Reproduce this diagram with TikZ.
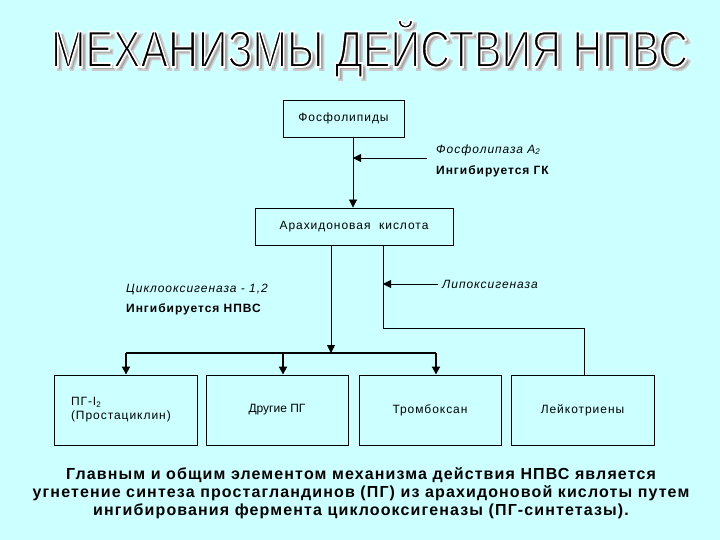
\documentclass[tikz,border=0pt]{standalone}
\usepackage{fontspec}
\usepackage{graphicx}
\setmainfont{Liberation Sans}
\newfontfamily\diagfont[LetterSpace=8]{Liberation Sans}
\newfontfamily\plainfont{Liberation Sans}
\newfontfamily\bottomfont[LetterSpace=7]{Liberation Sans}
\newfontfamily\titlefont[FakeBold=3.5]{Liberation Sans}
\usetikzlibrary{arrows.meta}
\definecolor{bg}{HTML}{CCFFFF}
\newcommand{\titletext}{\titlefont\fontsize{51.7}{52}\selectfont МЕХАНИЗМЫ ДЕЙСТВИЯ НПВС}
\tikzset{
  box/.style={draw=black, line width=0.9pt, font=\diagfont\fontsize{12}{14}\selectfont},
  lab/.style={anchor=west, inner sep=0pt, font=\diagfont\fontsize{12}{14}\selectfont},
  thinln/.style={line width=0.9pt},
  thickln/.style={line width=1.8pt},
  arr/.style={-{Triangle[length=8pt,width=8pt]}},
}
\begin{document}
\begin{tikzpicture}[x=1pt,y=-1pt]
\fill[bg] (0,0) rectangle (720,540);
\useasboundingbox (0,0) rectangle (720,540);
% title
\node[text=black!35, anchor=base, inner sep=0pt] (titleshadow) at (373,70) {\resizebox{637pt}{\height}{\special{pdf:literal direct 0.8 0.8 0.8 RG}\titletext}};
\node[text=black, anchor=base, inner sep=0pt] (title) at (369.5,67) {\resizebox{637pt}{\height}{\special{pdf:literal direct 1 1 1 RG}\titletext}};
% boxes
\node[box, minimum width=121, minimum height=37] (fos) at (343.5,118.5) {Фосфолипиды};
\node[box, minimum width=198, minimum height=37] (ara) at (354,226.5) {Арахидоновая\ \ кислота};
\node[box, minimum width=143, minimum height=70, text width=109, inner xsep=17, align=left] (b1) at (125.5,410) {ПГ-I\textsubscript{2}\\(Простациклин)\\[4pt]};
\node[box, minimum width=142, minimum height=70, font=\plainfont\fontsize{12}{14}\selectfont] (b2) at (277,410) {Другие ПГ};
\node[box, minimum width=142, minimum height=70] (b3) at (430,410) {Тромбоксан\\[2pt]};
\node[box, minimum width=143, minimum height=70] (b4) at (582.5,410) {Лейкотриены\\[6pt]};
% labels
\node[lab] (pla) at (436,150) {\itshape Фосфолипаза A\textsubscript{2}};
\node[lab] (gk) at (436,171) {\bfseries Ингибируется ГК};
\node[lab] (lox) at (442,284) {\itshape Липоксигеназа};
\node[lab] (cox) at (126,290) {\itshape Циклооксигеназа - 1,2};
\node[lab] (nsaid) at (126,309) {\bfseries Ингибируется НПВС};
% connector coordinates
\coordinate (fosout) at (353,137);
\coordinate (plain) at (427,158);
\coordinate (araout1) at (331,245);
\coordinate (araout2) at (383,245);
\coordinate (busL) at (126,353);
\coordinate (busR) at (436,353);
\coordinate (bus2) at (283,353);
\coordinate (loxin) at (438,284);
\coordinate (loxbend) at (383,328);
\coordinate (loxbend2) at (584,328);
% connectors
\draw[thinln, arr] (fosout) -- (fosout |- ara.north);
\draw[thinln, arr] (plain) -- (plain -| fosout);
\draw[thinln, arr] (araout1) -- (araout1 |- busL);
\draw[thickln] (busL) -- (busR);
\draw[thickln, arr] (busL) -- (busL |- b1.north);
\draw[thickln, arr] (bus2) -- (bus2 |- b2.north);
\draw[thickln, arr] (busR) -- (busR |- b3.north);
\draw[thinln] (araout2) -- (loxbend) -- (loxbend2) -- (loxbend2 |- b4.north);
\draw[thinln, arr] (loxin) -- (loxin -| araout2);
% bottom text
\node[font=\bottomfont\bfseries\fontsize{16}{18}\selectfont, align=center, inner sep=0pt] (summary) at (361,493) {Главным и общим элементом механизма действия НПВС является\\угнетение синтеза простагландинов (ПГ) из арахидоновой кислоты путем\\ингибирования фермента циклооксигеназы (ПГ-синтетазы).};
\end{tikzpicture}
\end{document}
